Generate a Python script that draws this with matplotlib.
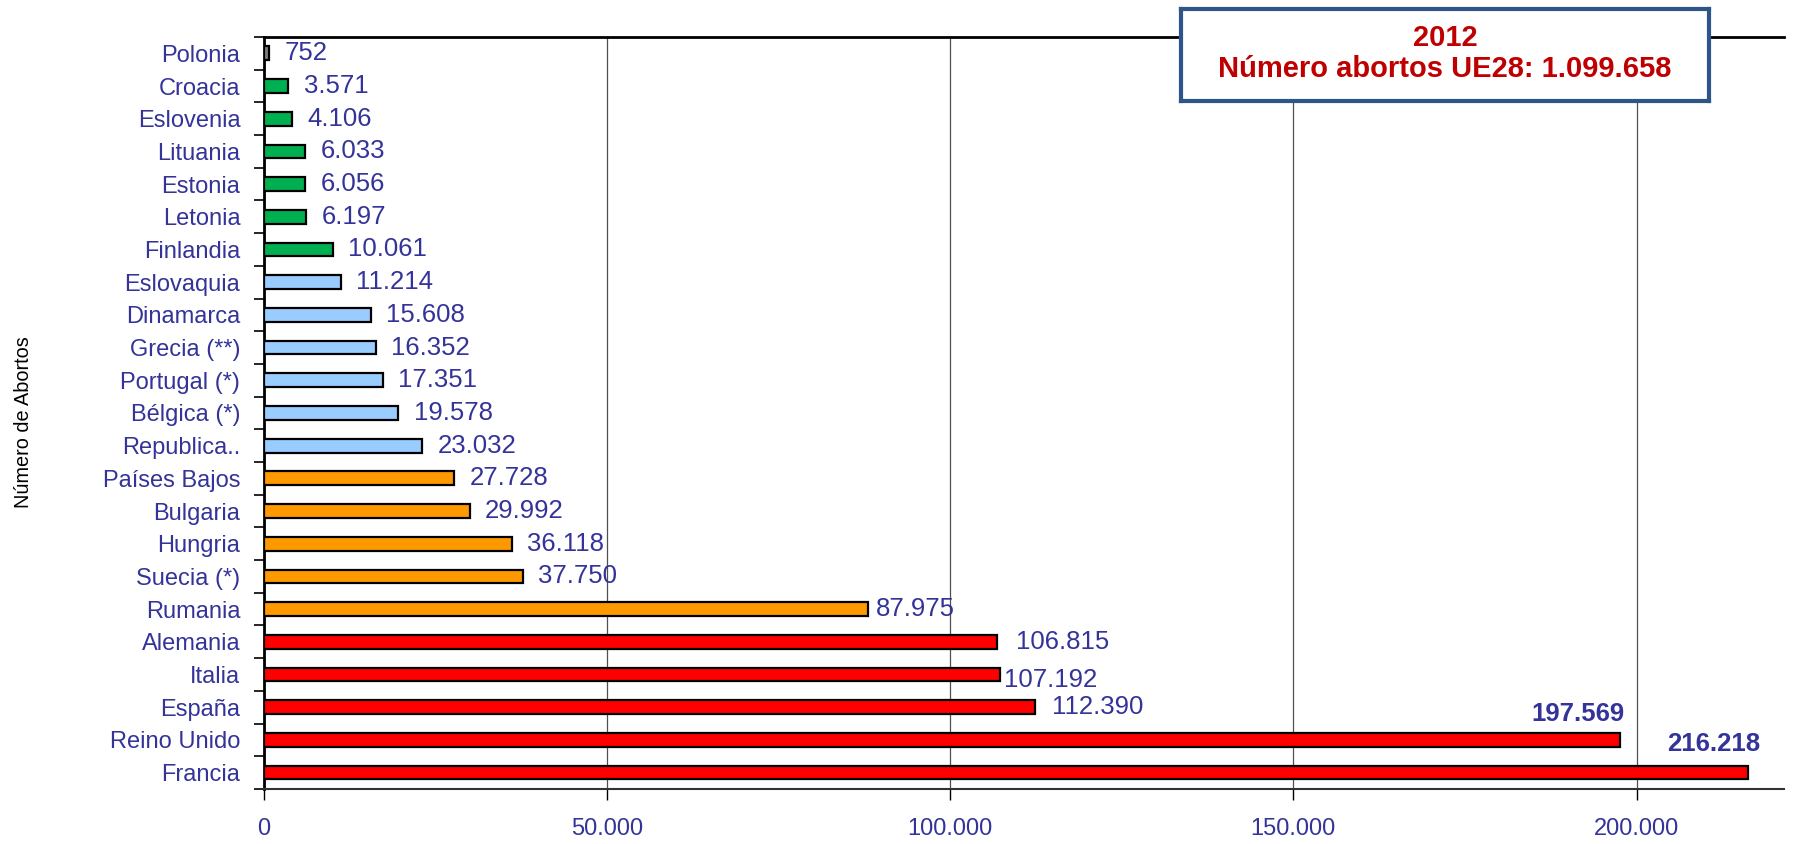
import numpy as np
import matplotlib
matplotlib.use('Agg')
import matplotlib.pyplot as plt
from matplotlib.ticker import FixedLocator, FuncFormatter

plt.rcParams['font.family'] = ['Liberation Sans', 'DejaVu Sans']

# data, top to bottom as in the chart
countries = ['Polonia', 'Croacia', 'Eslovenia', 'Lituania', 'Estonia', 'Letonia',
             'Finlandia', 'Eslovaquia', 'Dinamarca', 'Grecia (**)', 'Portugal (*)',
             'Bélgica (*)', 'Republica..', 'Países Bajos', 'Bulgaria', 'Hungria',
             'Suecia (*)', 'Rumania', 'Alemania', 'Italia', 'España', 'Reino Unido',
             'Francia']
abortos = [752, 3571, 4106, 6033, 6056, 6197, 10061, 11214, 15608, 16352, 17351,
           19578, 23032, 27728, 29992, 36118, 37750, 87975, 106815, 107192, 112390,
           197569, 216218]
grupo = ['gris'] + ['verde'] * 6 + ['azul'] * 6 + ['naranja'] * 5 + ['rojo'] * 5
x_ticks = [0, 50000, 100000, 150000, 200000]
titulo = ['2012', 'Número abortos UE28: 1.099.658']

colores = {'gris': '#808080', 'verde': '#00B050', 'azul': '#99CCFF',
           'naranja': '#FF9900', 'rojo': '#FF0000'}
azul_txt = '#333399'

# labels that were nudged by hand in the original chart (points)
ajustes = {'Rumania': (6, 0), 'Alemania': (14, 0), 'Italia': (3, -4), 'España': (12, 0)}
destacados = {'Reino Unido': (3.5, 19), 'Francia': (9, 20.5)}


def miles(v):
    return f'{int(v):,}'.replace(',', '.')


fig = plt.figure(figsize=(17.99, 8.44), dpi=100)
ax = fig.add_axes([0.1467, 0.0652, 0.8450, 0.891])

y = np.arange(len(countries))
ax.barh(y, abortos, height=0.42, color=[colores[g] for g in grupo],
        edgecolor='black', linewidth=1.6, zorder=3)

ax.set_xlim(0, 221500)
ax.set_ylim(len(countries) - 0.5, -0.5)

# value labels
for i, v in enumerate(abortos):
    c = countries[i]
    if c in destacados:
        ax.annotate(miles(v), (v, i), xytext=destacados[c], textcoords='offset points',
                    ha='right', va='center', fontsize=18.5, fontweight='bold',
                    color=azul_txt, zorder=4)
    else:
        ax.annotate(miles(v), (v, i), xytext=ajustes.get(c, (11, 0)),
                    textcoords='offset points', ha='left', va='center',
                    fontsize=18.5, color=azul_txt, zorder=4)

# axes styling
ax.set_yticks(y)
ax.set_yticklabels(countries, fontsize=17, color=azul_txt)
ax.yaxis.set_minor_locator(FixedLocator(np.arange(-0.5, len(countries), 1)))
ax.tick_params(axis='y', which='major', length=0, pad=17)
ax.tick_params(axis='y', which='minor', length=7, width=1.2, direction='out', color='black')

ax.set_xticks(x_ticks)
ax.xaxis.set_major_formatter(FuncFormatter(lambda v, p: miles(v)))
ax.tick_params(axis='x', length=8, width=1, direction='out', color='black',
               labelsize=17, labelcolor=azul_txt, pad=13)
ax.grid(axis='x', color='#505050', linewidth=0.9, zorder=0)

ax.spines['right'].set_visible(False)
ax.spines['left'].set_linewidth(2)
ax.spines['top'].set_linewidth(2)
ax.spines['bottom'].set_linewidth(1.5)
ax.spines['bottom'].set_color('#333333')

fig.text(0.0133, 0.5, 'Número de Abortos', rotation=90, ha='center', va='center',
         fontsize=14.3, color='black')

# summary box
box_ax = fig.add_axes([1181 / 1799, 1 - 101 / 844, 528 / 1799, 92 / 844])
box_ax.set_xticks([])
box_ax.set_yticks([])
for s in box_ax.spines.values():
    s.set_linewidth(3)
    s.set_color('#2F5487')
box_ax.text(0.5, 0.69, titulo[0], ha='center', va='center', fontsize=21,
            fontweight='bold', color='#C00000', transform=box_ax.transAxes)
box_ax.text(0.5, 0.35, titulo[1], ha='center', va='center', fontsize=21,
            fontweight='bold', color='#C00000', transform=box_ax.transAxes)

fig.savefig('out.png', dpi=100)
